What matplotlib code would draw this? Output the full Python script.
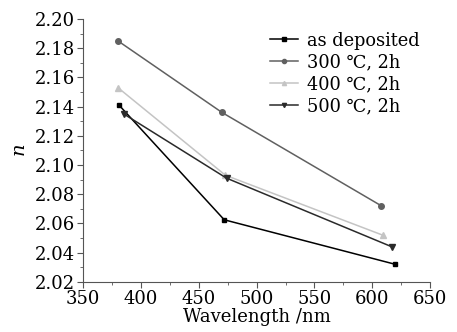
import matplotlib
matplotlib.use("Agg")
import matplotlib.pyplot as plt
from matplotlib.ticker import MultipleLocator

plt.rcParams['font.family'] = ['DejaVu Serif']
plt.rcParams['mathtext.fontset'] = 'dejavuserif'

labels = ["as deposited", "300 ℃, 2h", "400 ℃, 2h", "500 ℃, 2h"]
wl_dep = [381, 472, 620]
n_dep = [2.141, 2.0625, 2.032]
wl_300 = [380, 470, 608]
n_300 = [2.185, 2.136, 2.072]
wl_400 = [380, 473, 609]
n_400 = [2.153, 2.093, 2.052]
wl_500 = [385, 474, 617]
n_500 = [2.135, 2.091, 2.044]

fig = plt.figure(figsize=(4.57, 3.32), dpi=100)
ax = fig.add_axes([0.182, 0.151, 0.759, 0.792])

ax.plot(wl_dep, n_dep, color='black', marker='s', ms=3.5, lw=1.1, label=labels[0])
ax.plot(wl_300, n_300, color='#606060', marker='o', ms=4, lw=1.1, label=labels[1])
ax.plot(wl_400, n_400, color='#c4c4c4', marker='^', ms=4.5, lw=1.1, label=labels[2])
ax.plot(wl_500, n_500, color='#2a2a2a', marker='v', ms=4.5, lw=1.1, label=labels[3])

ax.set_xlim(350, 650)
ax.set_ylim(2.02, 2.20)
ax.xaxis.set_major_locator(MultipleLocator(50))
ax.xaxis.set_minor_locator(MultipleLocator(25))
ax.yaxis.set_major_locator(MultipleLocator(0.02))
ax.yaxis.set_minor_locator(MultipleLocator(0.01))
ax.yaxis.set_major_formatter(plt.FormatStrFormatter('%.2f'))
for s in ['top', 'right']:
    ax.spines[s].set_visible(False)
for s in ['left', 'bottom']:
    ax.spines[s].set_color('#555555')
ax.tick_params(axis='both', which='major', direction='out', length=4, labelsize=13, color='#555555', pad=2)
ax.tick_params(axis='both', which='minor', direction='out', length=2.5, color='#555555')

ax.set_xlabel('Wavelength /nm', fontsize=13, labelpad=0)
ax.set_ylabel('$n$', fontsize=14, labelpad=4)

leg = ax.legend(loc='upper left', bbox_to_anchor=(0.59, 0.905), bbox_transform=fig.transFigure,
                frameon=False, fontsize=12.8, handlelength=1.6, handletextpad=0.5,
                labelspacing=0.22, borderaxespad=0, borderpad=0)
for h in leg.legend_handles:
    h.set_markersize(3)

fig.savefig('out.png', dpi=100)
